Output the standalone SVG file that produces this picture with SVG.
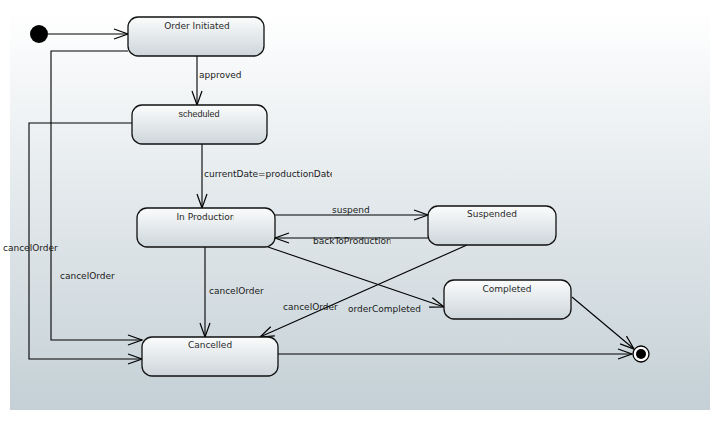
<svg xmlns="http://www.w3.org/2000/svg" width="720" height="421" viewBox="0 0 720 421">
  <defs>
    <linearGradient id="bg" x1="0" y1="0" x2="0" y2="1">
      <stop offset="0" stop-color="#ffffff"/>
      <stop offset="1" stop-color="#c4d0d6"/>
    </linearGradient>
    <linearGradient id="nodeFill" x1="0" y1="0" x2="0" y2="1">
      <stop offset="0" stop-color="#fbfcfc"/>
      <stop offset="1" stop-color="#cdd6db"/>
    </linearGradient>
    <marker id="open" markerUnits="userSpaceOnUse" markerWidth="20" markerHeight="14" viewBox="-16 -7 18 14" refX="0" refY="0" orient="auto">
      <path d="M-14,-5 L0,0 L-14,5" fill="none" stroke="#000" stroke-width="1.2"/>
    </marker>
    <!-- label areas are fixed-width, so long names are cut off at the edge -->
    <clipPath id="clipInProd"><rect x="130" y="205" width="103.5" height="20"/></clipPath>
    <clipPath id="clipGuard"><rect x="200" y="165" width="132" height="20"/></clipPath>
    <clipPath id="clipBack"><rect x="300" y="232" width="90.5" height="20"/></clipPath>
  </defs>
  <style>
    .state { fill: url(#nodeFill); stroke: #111; stroke-width: 1.3; }
    .name { font-family: "DejaVu Sans", sans-serif; font-size: 9px; fill: #2a2a2a; text-anchor: middle; }
    .lbl { font-family: "DejaVu Sans", sans-serif; font-size: 9px; fill: #1a1a1a; }
    .edge { fill: none; stroke: #000; stroke-width: 1.1; marker-end: url(#open); }
  </style>

  <rect x="0" y="0" width="720" height="421" fill="#ffffff"/>
  <rect x="10" y="10" width="700" height="400" fill="url(#bg)"/>

  <g id="connectors">
    <path class="edge" d="M48,34 H128"/>
    <path class="edge" d="M197,56 V105"/>
    <path class="edge" d="M202,144 V208"/>
    <path class="edge" d="M275,215 H428"/>
    <path class="edge" d="M428,238 H275"/>
    <path class="edge" d="M205,247 V337"/>
    <path class="edge" d="M467,245 L260,337"/>
    <path class="edge" d="M268,247 L444,307"/>
    <path class="edge" d="M128,51 H51 V340 H142"/>
    <path class="edge" d="M132,123 H29 V359 H142"/>
    <path class="edge" d="M278,354 H632"/>
    <path class="edge" d="M572,297 L634,349"/>
    <text class="lbl" x="199" y="78">approved</text>
    <text class="lbl" x="204" y="177" clip-path="url(#clipGuard)">currentDate=productionDate</text>
    <text class="lbl" x="332" y="213">suspend</text>
    <text class="lbl" x="313" y="244" clip-path="url(#clipBack)">backToProduction</text>
    <text class="lbl" x="209" y="294">cancelOrder</text>
    <text class="lbl" x="283" y="310">cancelOrder</text>
    <text class="lbl" x="348" y="312">orderCompleted</text>
    <text class="lbl" x="60" y="279">cancelOrder</text>
    <text class="lbl" x="3" y="251">cancelOrder</text>
  </g>

  <g id="initial">
    <circle cx="39" cy="34" r="9" fill="#000"/>
  </g>

  <g id="orderInitiated">
    <rect class="state" x="128" y="17" width="136" height="39" rx="10"/>
    <text class="name" x="197" y="29">Order Initiated</text>
  </g>

  <g id="scheduled">
    <rect class="state" x="132" y="105" width="135" height="39" rx="10"/>
    <text class="name" x="199" y="117" style="font-family:'Liberation Sans',sans-serif">scheduled</text>
  </g>

  <g id="inProduction">
    <rect class="state" x="137" y="208" width="138" height="39" rx="10"/>
    <text class="name" x="206" y="220" clip-path="url(#clipInProd)">In Production</text>
  </g>

  <g id="suspended">
    <rect class="state" x="428" y="206" width="128" height="39" rx="10"/>
    <text class="name" x="492" y="217">Suspended</text>
  </g>

  <g id="completed">
    <rect class="state" x="444" y="280" width="127" height="39" rx="10"/>
    <text class="name" x="507" y="292">Completed</text>
  </g>

  <g id="cancelled">
    <rect class="state" x="142" y="337" width="136" height="39" rx="10"/>
    <text class="name" x="210" y="348">Cancelled</text>
  </g>

  <g id="final">
    <circle cx="641" cy="354" r="8" fill="#fff" stroke="#000" stroke-width="1.3"/>
    <circle cx="641" cy="354" r="5" fill="#000"/>
  </g>
</svg>
